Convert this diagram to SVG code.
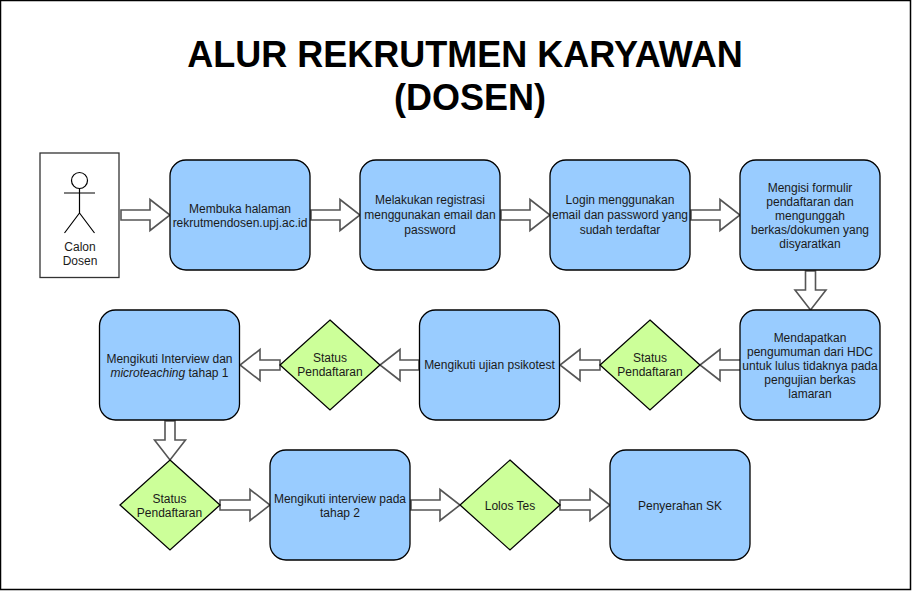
<svg xmlns="http://www.w3.org/2000/svg" width="912" height="591" viewBox="0 0 912 591">
<style>
text{font-family:"Liberation Sans",Arial,sans-serif;font-size:12px;fill:#1a1a1a;text-anchor:middle}
.t{font-size:36px;font-weight:bold;fill:#000}
.b{fill:#99ccff;stroke:#000;stroke-width:1.3}
.d{fill:#ccff99;stroke:#000;stroke-width:1.3}
.a{fill:#fff;stroke:#555;stroke-width:1.6;stroke-linejoin:miter}
.p{fill:none;stroke:#000;stroke-width:1.2}
</style>
<rect x="0" y="0" width="912" height="591" fill="#fff"/>
<rect x="0.5" y="0.5" width="910" height="589" fill="none" stroke="#000" stroke-width="1.5"/>
<g id="title"><text class="t" x="465" y="67">ALUR REKRUTMEN KARYAWAN</text><text class="t" x="470" y="110">(DOSEN)</text></g>
<g id="connectors">
<path class="a" d="M121 210H150V199.500L170 215L150 230.500V220H121Z"/>
<path class="a" d="M311 210H340V199.500L360 215L340 230.500V220H311Z"/>
<path class="a" d="M501 210H530V199.500L550 215L530 230.500V220H501Z"/>
<path class="a" d="M691 210H720V199.500L740 215L720 230.500V220H691Z"/>
<path class="a" d="M805.500 271V290H795L810.500 310L826 290H815.500V271Z"/>
<path class="a" d="M741 360H720V349.500L700 365L720 380.500V370H741Z"/>
<path class="a" d="M600 360H580V349.500L560 365L580 380.500V370H600Z"/>
<path class="a" d="M419 360H400V349.500L380 365L400 380.500V370H419Z"/>
<path class="a" d="M280 360H260V349.500L240 365L260 380.500V370H280Z"/>
<path class="a" d="M165 421V440H154.500L170 460L185.500 440H175V421Z"/>
<path class="a" d="M220 500H250V489.500L270 505L250 520.500V510H220Z"/>
<path class="a" d="M411 500H440V489.500L460 505L440 520.500V510H411Z"/>
<path class="a" d="M560 500H590V489.500L610 505L590 520.500V510H560Z"/>
</g>
<g id="actor">
<rect x="40" y="153" width="79" height="124.500" fill="#fff" stroke="#333" stroke-width="1.3"/>
<circle class="p" cx="79.500" cy="180.500" r="8"/>
<path class="p" d="M79.500 188.500V213M64 193H95M79.500 213L64.500 233M79.500 213L94.500 233"/>
<text x="80" y="251">Calon</text><text x="80" y="265">Dosen</text>
</g>
<g id="n1"><rect class="b" x="170" y="160" width="140" height="110" rx="16"/><text x="240" y="213">Membuka halaman</text><text x="240" y="227">rekrutmendosen.upj.ac.id</text></g>
<g id="n2"><rect class="b" x="360" y="160" width="140" height="110" rx="16"/><text x="430" y="204">Melakukan registrasi</text><text x="430" y="219">menggunakan email dan</text><text x="430" y="234">password</text></g>
<g id="n3"><rect class="b" x="550" y="160" width="140" height="110" rx="16"/><text x="620" y="204">Login menggunakan</text><text x="620" y="219">email dan password yang</text><text x="620" y="234">sudah terdaftar</text></g>
<g id="n4"><rect class="b" x="740" y="160" width="140" height="110" rx="16"/><text x="810" y="192">Mengisi formulir</text><text x="810" y="206">pendaftaran dan</text><text x="810" y="220">mengunggah</text><text x="810" y="234">berkas/dokumen yang</text><text x="810" y="248">disyaratkan</text></g>
<g id="n5"><rect class="b" x="740" y="310" width="140" height="110" rx="16"/><text x="810" y="342">Mendapatkan</text><text x="810" y="356">pengumuman dari HDC</text><text x="810" y="370">untuk lulus tidaknya pada</text><text x="810" y="384">pengujian berkas</text><text x="810" y="398">lamaran</text></g>
<g id="n6"><path class="d" d="M650 320L700 365L650 410L600 365Z"/><text x="650" y="362">Status</text><text x="650" y="376">Pendaftaran</text></g>
<g id="n7"><rect class="b" x="419.500" y="310" width="140" height="110" rx="16"/><text x="489.500" y="369">Mengikuti ujian psikotest</text></g>
<g id="n8"><path class="d" d="M330 320L380 365L330 410L280 365Z"/><text x="330" y="362">Status</text><text x="330" y="376">Pendaftaran</text></g>
<g id="n9"><rect class="b" x="99.500" y="310" width="140" height="110" rx="16"/><text x="169.500" y="363">Mengikuti Interview dan</text><text x="169.500" y="377"><tspan font-style="italic">microteaching</tspan> tahap 1</text></g>
<g id="n10"><path class="d" d="M170 460L220 505L170 550L120 505Z"/><text x="169.500" y="503">Status</text><text x="169.500" y="517">Pendaftaran</text></g>
<g id="n11"><rect class="b" x="270" y="450" width="140" height="110" rx="16"/><text x="340" y="503">Mengikuti interview pada</text><text x="340" y="517">tahap 2</text></g>
<g id="n12"><path class="d" d="M510 460L560 505L510 550L460 505Z"/><text x="510" y="510">Lolos Tes</text></g>
<g id="n13"><rect class="b" x="610" y="450" width="140" height="110" rx="16"/><text x="680" y="510">Penyerahan SK</text></g>
</svg>
